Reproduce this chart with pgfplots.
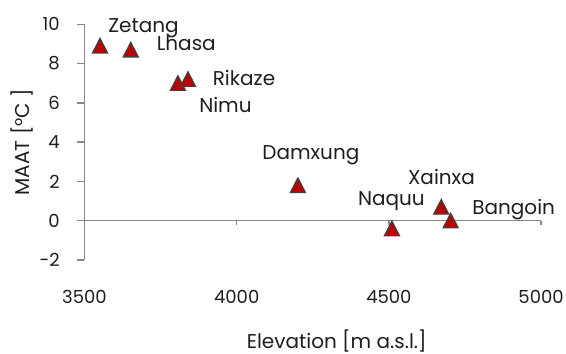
\documentclass[border=0pt]{standalone}
\usepackage{pgfplots}
\pgfplotsset{compat=1.18}
\usepackage{pgfplotstable}
\usepackage{fontspec}
\setmainfont{Poppins}

\definecolor{axisgray}{HTML}{868686}
\definecolor{markred}{HTML}{C00000}
\definecolor{markedge}{HTML}{404040}
\definecolor{textdark}{HTML}{1E1E1E}

% Station elevation [m a.s.l.], mean annual air temperature [deg C],
% and label offsets (pt) relative to each station mark
\pgfplotstableread{
elev  maat   name     dx    dy
3551  8.9    Zetang   43.5  16
3652  8.7    Lhasa    55.5  1.2
3807  7.0    Nimu     47.5  -27.2
3840  7.2    Rikaze   56    -3.7
4201  1.8    Damxung  13    28.3
4510  -0.4   Naquu    -0.5  25.7
4672  0.7    Xainxa   0.2   25
4703  0.0    Bangoin  63    9
}\stations

\begin{document}
\begin{tikzpicture}[font=\fontsize{20}{23}\selectfont, text=textdark]
\begin{axis}[
  scale only axis,
  width=456.6pt, height=235.8pt,
  xmin=3500, xmax=5000,
  ymin=-2, ymax=10,
  axis x line=bottom, axis y line=left,
  axis line style={-, axisgray, line width=1.5pt},
  x axis line style={draw=none},
  xtick={3500,4000,4500,5000},
  xticklabels={3500,4000,4500,5000},
  ytick={-2,0,2,4,6,8,10},
  yticklabels={-2,0,2,4,6,8,10},
  xtick style={draw=none},
  ytick style={axisgray, line width=1.4pt},
  tick align=outside,
  major tick length=7.5pt,
  tick label style={font=\fontsize{18}{21}\selectfont},
  yticklabel style={anchor=east, inner sep=0pt, xshift=-17pt},
  xticklabel style={anchor=base, inner sep=0pt, yshift=-36pt},
  xlabel={Elevation [m a.s.l.]},
  ylabel={MAAT [°C ]},
  xlabel style={at={(axis description cs:0.5523,-0.3732)}, anchor=base, inner sep=0pt},
  ylabel style={at={(axis description cs:-0.1369,0.5)}, anchor=center, inner sep=0pt},
  clip=false,
]
% zero line with small hanging ticks
\draw[axisgray, line width=1.5pt] (axis cs:3500,0) -- (axis cs:5000,0);
\draw[axisgray, line width=1.4pt] (axis cs:4000,0) -- ([yshift=-4.5pt]axis cs:4000,0);
\draw[axisgray, line width=1.4pt] (axis cs:4500,0) -- ([yshift=-4.5pt]axis cs:4500,0);
\draw[axisgray, line width=1.4pt] (axis cs:5000,0) -- ([yshift=-4.5pt]axis cs:5000,0);

\addplot[
  only marks,
  mark=triangle*,
  mark size=8.6pt,
  mark options={fill=markred, draw=markedge, line width=1.3pt, yshift=-2.3pt, yscale=1.12},
  point meta=explicit symbolic,
  visualization depends on={\thisrow{dx} \as \ldx},
  visualization depends on={\thisrow{dy} \as \ldy},
  nodes near coords,
  nodes near coords style={anchor=base, inner sep=0pt, text=textdark,
    xshift=\ldx pt, yshift=\ldy pt},
] table[x=elev, y=maat, meta=name] {\stations};

\coordinate (origin) at (rel axis cs:0,0);
\end{axis}
\pgfresetboundingbox
\path (origin) ++(-84.5pt,-94pt) rectangle ++(566pt,354pt);
\end{tikzpicture}
\end{document}
